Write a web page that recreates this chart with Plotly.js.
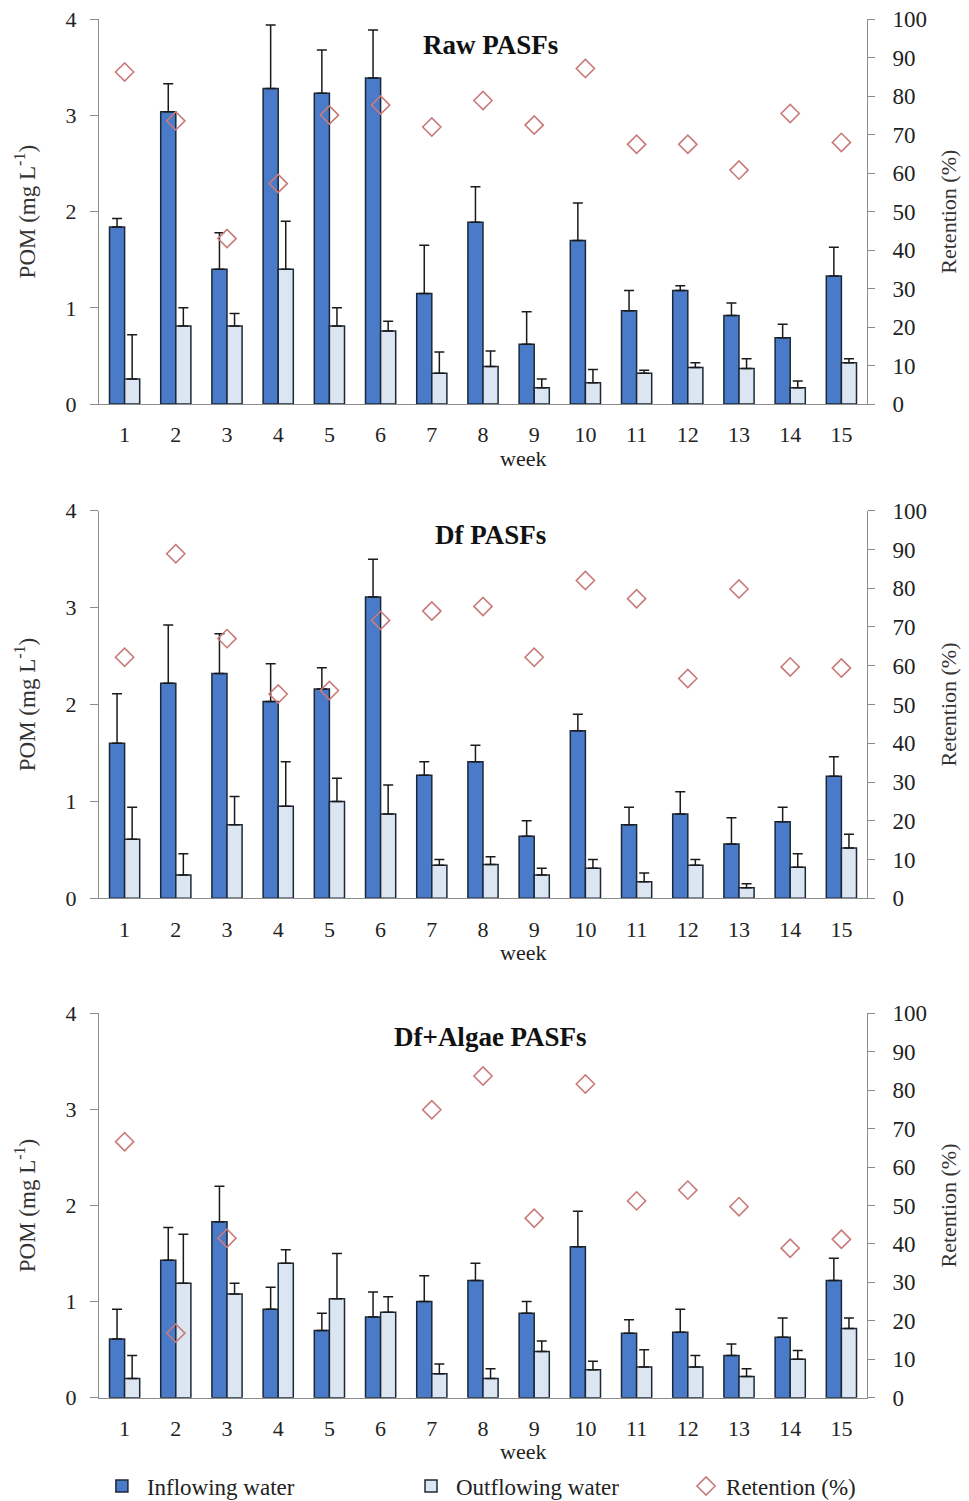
<!DOCTYPE html>
<html>
<head>
<meta charset="utf-8">
<script src="https://cdn.plot.ly/plotly-3.0.1.min.js"></script>
<style>html,body{margin:0;padding:0;background:#fff;}#chart{width:969px;height:1501px;}</style>
</head>
<body>
<div id="chart"></div>
<script>
const weeks = ['1','2','3','4','5','6','7','8','9','10','11','12','13','14','15'];

const rawIn    = [1.84,3.04,1.40,3.28,3.23,3.39,1.15,1.89,0.62,1.70,0.97,1.18,0.92,0.69,1.33];
const rawInSD  = [0.09,0.29,0.38,0.66,0.45,0.50,0.50,0.37,0.34,0.39,0.21,0.05,0.13,0.14,0.30];
const rawOut   = [0.26,0.81,0.81,1.40,0.81,0.76,0.32,0.39,0.17,0.22,0.32,0.38,0.37,0.17,0.43];
const rawOutSD = [0.46,0.19,0.13,0.50,0.19,0.10,0.22,0.16,0.09,0.14,0.03,0.05,0.10,0.07,0.04];
const rawRet   = [86.3,73.6,43.0,57.3,75.1,77.7,72.0,78.9,72.5,87.2,67.5,67.5,60.8,75.5,68.0];

const dfIn    = [1.60,2.22,2.32,2.03,2.16,3.11,1.27,1.41,0.64,1.73,0.76,0.87,0.56,0.79,1.26];
const dfInSD  = [0.51,0.60,0.41,0.39,0.22,0.39,0.14,0.17,0.16,0.17,0.18,0.23,0.27,0.15,0.20];
const dfOut   = [0.61,0.24,0.76,0.95,1.00,0.87,0.34,0.35,0.24,0.31,0.17,0.34,0.11,0.32,0.52];
const dfOutSD = [0.33,0.22,0.29,0.46,0.24,0.30,0.06,0.08,0.07,0.09,0.09,0.06,0.04,0.14,0.14];
const dfRet   = [62.2,88.9,67.0,52.7,53.6,71.7,74.1,75.3,62.2,82.0,77.3,56.7,79.8,59.7,59.4];

const algIn    = [0.61,1.43,1.83,0.92,0.70,0.84,1.00,1.22,0.88,1.57,0.67,0.68,0.44,0.63,1.22];
const algInSD  = [0.31,0.34,0.37,0.23,0.18,0.26,0.27,0.18,0.12,0.37,0.14,0.24,0.12,0.20,0.23];
const algOut   = [0.20,1.19,1.08,1.40,1.03,0.89,0.25,0.20,0.48,0.29,0.32,0.32,0.22,0.40,0.72];
const algOutSD = [0.24,0.51,0.11,0.14,0.47,0.16,0.10,0.10,0.11,0.09,0.18,0.12,0.08,0.09,0.11];
const algRet   = [66.6,16.8,41.5,null,null,null,74.9,83.7,46.7,81.6,51.2,54.0,49.7,38.9,41.2];

const panelTitles = ['Raw PASFs','Df PASFs','Df+Algae PASFs'];
const seriesNames = ['Inflowing water','Outflowing water','Retention (%)'];
const xTitle = 'week';
const yLeftTitle = 'POM (mg L<sup>-1</sup>)';
const yRightTitle = 'Retention (%)';

const FONT = 'Liberation Serif, Times New Roman, serif';
const inColor = '#4a7bc8', outColor = '#dce6f2', edge = '#1c2838', retColor = '#c97b7b';

const panels = [
  {inV: rawIn, inSD: rawInSD, outV: rawOut, outSD: rawOutSD, ret: rawRet},
  {inV: dfIn, inSD: dfInSD, outV: dfOut, outSD: dfOutSD, ret: dfRet},
  {inV: algIn, inSD: algInSD, outV: algOut, outSD: algOutSD, ret: algRet}
];

const zeros = weeks.map(() => 0);
function errBar(sd) {
  return {type:'data', symmetric:false, array: sd, arrayminus: zeros, color:'#1a1a1a', thickness:1.5, width:5, visible:true};
}

const traces = [];
panels.forEach((p, i) => {
  const xa = i === 0 ? 'x' : 'x' + (i + 1);
  const yl = 'y' + (i === 0 ? '' : (2 * i + 1));
  const yr = 'y' + (2 * i + 2);
  const last = i === 2;
  traces.push({type:'bar', x: weeks, y: p.inV, name: seriesNames[0], xaxis: xa, yaxis: yl,
    marker:{color: inColor, line:{color: edge, width:1.5}}, error_y: errBar(p.inSD),
    showlegend: last, legend: 'legend', offsetgroup: 'a'});
  traces.push({type:'bar', x: weeks, y: p.outV, name: seriesNames[1], xaxis: xa, yaxis: yl,
    marker:{color: outColor, line:{color: edge, width:1.5}}, error_y: errBar(p.outSD),
    showlegend: last, legend: 'legend2', offsetgroup: 'b'});
  traces.push({type:'scatter', mode:'markers', x: weeks, y: p.ret, name: seriesNames[2], xaxis: xa, yaxis: yr,
    marker:{symbol:'diamond-open', size:14, color: retColor, line:{width:1.6, color: retColor}},
    showlegend: last, legend: 'legend3'});
});

const H = 1501;
const pxTop = [19.3, 510.7, 1013.3];
const pxBot = [404, 898.3, 1397.7];
const domains = pxTop.map((t, i) => [1 - pxBot[i] / H, 1 - t / H]);

const axisLine = '#8c8c8c';
const legFont = {family: FONT, size: 23, color:'#222'};
const legY = 1 - 1486 / H;
const layout = {
  width: 969, height: 1501,
  margin: {l: 99, r: 102, t: 0, b: 0, autoexpand: false},
  paper_bgcolor: '#fff', plot_bgcolor: '#fff',
  font: {family: FONT, size: 20, color: '#222'},
  barmode: 'group', bargap: 0.41, bargroupgap: 0,
  annotations: [],
  legend:  {orientation:'h', xref:'container', yref:'container', x: 0.100, y: legY, yanchor:'middle', xanchor:'left', bgcolor:'rgba(0,0,0,0)', font: legFont, itemwidth: 40},
  legend2: {orientation:'h', xref:'container', yref:'container', x: 0.419, y: legY, yanchor:'middle', xanchor:'left', bgcolor:'rgba(0,0,0,0)', font: legFont, itemwidth: 40},
  legend3: {orientation:'h', xref:'container', yref:'container', x: 0.708, y: legY, yanchor:'middle', xanchor:'left', bgcolor:'rgba(0,0,0,0)', font: legFont}
};

const weekY = [459, 952, 1451];
const titleYpx = [45, 535, 1037];
for (let i = 0; i < 3; i++) {
  const xk = i === 0 ? 'xaxis' : 'xaxis' + (i + 1);
  const ylk = 'yaxis' + (i === 0 ? '' : (2 * i + 1));
  const yrk = 'yaxis' + (2 * i + 2);
  const ylId = 'y' + (i === 0 ? '' : (2 * i + 1));
  const xId = i === 0 ? 'x' : 'x' + (i + 1);
  layout[xk] = {
    type: 'category', domain: [0, 1], anchor: ylId, range: [-0.5, 14.5],
    showline: true, linecolor: axisLine, linewidth: 1, ticks: '', showgrid: false, zeroline: false,
    tickfont: {family: FONT, size: 22, color: '#222'}, ticklabelstandoff: 11
  };
  layout[ylk] = {
    domain: domains[i], anchor: xId, range: [0, 4], dtick: 1, tick0: 0,
    showline: true, linecolor: axisLine, linewidth: 1, ticks: 'outside', ticklen: 8, tickcolor: axisLine,
    showgrid: false, zeroline: false, ticklabelstandoff: 9,
    tickfont: {family: FONT, size: 22, color: '#222'},
    title: {text: yLeftTitle, font: {family: FONT, size: 23, color: '#333'}, standoff: 23}
  };
  layout[yrk] = {
    overlaying: ylId, side: 'right', anchor: xId, range: [0, 100], dtick: 10, tick0: 0,
    showline: true, linecolor: axisLine, linewidth: 1, ticks: 'outside', ticklen: 7, tickcolor: axisLine,
    showgrid: false, zeroline: false, ticklabelstandoff: 13,
    tickfont: {family: FONT, size: 23, color: '#222'},
    title: {text: yRightTitle, font: {family: FONT, size: 22, color: '#333'}, standoff: 14}
  };
  layout.annotations.push({
    text: '<b>' + panelTitles[i] + '</b>', xref: 'paper', yref: 'paper',
    x: (490 - 99) / 768, y: 1 - titleYpx[i] / H, xanchor: 'center', yanchor: 'middle', showarrow: false,
    font: {family: FONT, size: 27, color: '#111'}
  });
  layout.annotations.push({
    text: xTitle, xref: 'paper', yref: 'paper',
    x: (523 - 99) / 768, y: 1 - weekY[i] / H, xanchor: 'center', yanchor: 'middle', showarrow: false,
    font: {family: FONT, size: 22, color: '#222'}
  });
}

Plotly.newPlot('chart', traces, layout, {displayModeBar: false, staticPlot: true});
</script>
</body>
</html>
